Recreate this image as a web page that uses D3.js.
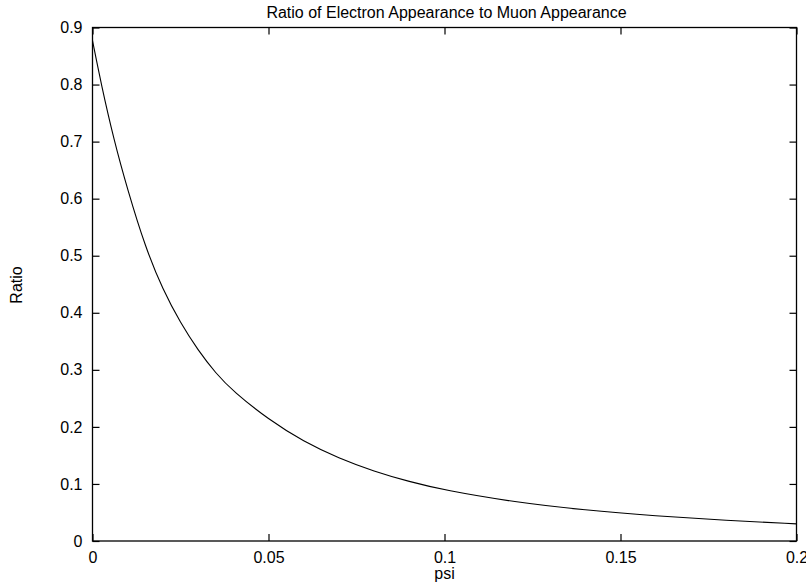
<!DOCTYPE html>
<html>
<head>
<meta charset="utf-8">
<script src="https://cdn.jsdelivr.net/npm/d3@7"></script>
<style>
  body { margin: 0; background: #fff; }
  text { font-family: "Liberation Sans", Arial, sans-serif; fill: #000; }
</style>
</head>
<body>
<svg id="chart" width="806" height="584"></svg>
<script>
// values
var psi   = [0, 0.0025, 0.006, 0.010, 0.015, 0.020, 0.025, 0.030, 0.035, 0.040, 0.050, 0.060, 0.070, 0.080, 0.090, 0.100, 0.120, 0.140, 0.160, 0.180, 0.200];
var ratio = [0.877, 0.80, 0.705, 0.615, 0.515, 0.44, 0.382, 0.334, 0.294, 0.262, 0.213, 0.174, 0.145, 0.122, 0.104, 0.089, 0.068, 0.054, 0.044, 0.036, 0.030];
var xTicks = [0, 0.05, 0.1, 0.15, 0.2];
var yTicks = [0, 0.1, 0.2, 0.3, 0.4, 0.5, 0.6, 0.7, 0.8, 0.9];

var svg = d3.select("#chart");
var mLeft = 92.5, mRight = 796.5, mTop = 27.5, mBottom = 541;

var x = d3.scaleLinear().domain([0, 0.2]).range([mLeft, mRight]);
var y = d3.scaleLinear().domain([0, 0.9]).range([mBottom, mTop]);

var data = psi.map(function(p, i){ return {psi: p, r: ratio[i]}; });

// ticks on all four sides, pointing inward
var tl = 7;
function fmt(d){ return String(+d.toFixed(2)); }

svg.append("g")
  .attr("transform", "translate(0," + mBottom + ")")
  .call(d3.axisBottom(x).tickValues(xTicks).tickSize(-tl).tickPadding(11).tickFormat(fmt))
  .call(function(g){ g.select(".domain").remove(); });
svg.append("g")
  .attr("transform", "translate(0," + mTop + ")")
  .call(d3.axisTop(x).tickValues(xTicks).tickSize(-tl).tickFormat(""))
  .call(function(g){ g.select(".domain").remove(); });
svg.append("g")
  .attr("transform", "translate(" + mLeft + ",0)")
  .call(d3.axisLeft(y).tickValues(yTicks).tickSize(-tl).tickPadding(10).tickFormat(fmt))
  .call(function(g){ g.select(".domain").remove(); });
svg.append("g")
  .attr("transform", "translate(" + mRight + ",0)")
  .call(d3.axisRight(y).tickValues(yTicks).tickSize(-tl).tickFormat(""))
  .call(function(g){ g.select(".domain").remove(); });

svg.selectAll(".tick line").attr("stroke", "#000").attr("stroke-width", 1.2);
svg.selectAll(".tick text")
  .style("font-size", "16px")
  .style("font-family", "'Liberation Sans', Arial, sans-serif")
  .attr("fill", "#000");

// frame
svg.append("rect")
  .attr("x", mLeft).attr("y", mTop)
  .attr("width", mRight - mLeft).attr("height", mBottom - mTop)
  .attr("fill", "none").attr("stroke", "#000").attr("stroke-width", 1.3);

// curve
svg.append("path")
  .datum(data)
  .attr("fill", "none")
  .attr("stroke", "#000")
  .attr("stroke-width", 1.1)
  .attr("d", d3.line()
    .x(function(d){ return x(d.psi); })
    .y(function(d){ return y(d.r); })
    .curve(d3.curveBasis));

// labels
svg.append("text")
  .attr("x", 446.5).attr("y", 18)
  .attr("text-anchor", "middle")
  .style("font-size", "16px")
  .text("Ratio of Electron Appearance to Muon Appearance");

svg.append("text")
  .attr("x", 444.5).attr("y", 579)
  .attr("text-anchor", "middle")
  .style("font-size", "16px")
  .text("psi");

svg.append("text")
  .attr("transform", "translate(22,285) rotate(-90)")
  .attr("text-anchor", "middle")
  .style("font-size", "16px")
  .text("Ratio");
</script>
</body>
</html>
